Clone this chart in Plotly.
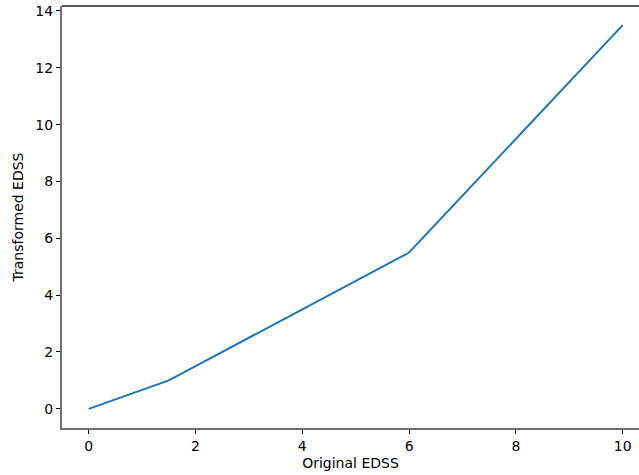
import plotly.graph_objects as go

original_edss = [0, 1.5, 6, 10]
transformed_edss = [0, 1, 5.5, 13.5]
x_ticks = [0, 2, 4, 6, 8, 10]
y_ticks = [0, 2, 4, 6, 8, 10, 12, 14]

fig = go.Figure()
fig.add_trace(go.Scatter(x=original_edss, y=transformed_edss, mode="lines",
                         line=dict(color="#1f77b4", width=2)))

font = dict(family="DejaVu Sans", size=14, color="black")
fig.update_layout(
    width=639, height=475,
    margin=dict(l=62, r=0, t=6, b=47),
    paper_bgcolor="white", plot_bgcolor="white",
    showlegend=False,
    font=font,
    xaxis=dict(range=[-0.5, 10.305], tickvals=x_ticks, ticktext=[str(v) for v in x_ticks],
               showgrid=False, zeroline=False, showline=True, linecolor="#707070", linewidth=2,
               ticks="outside", ticklen=4, tickwidth=1, tickcolor="black",
               title=dict(text="Original EDSS", font=font, standoff=5)),
    yaxis=dict(range=[-0.675, 14.175], tickvals=y_ticks, ticktext=[str(v) for v in y_ticks],
               showgrid=False, zeroline=False, showline=True, linecolor="#707070", linewidth=2,
               ticks="outside", ticklen=4, tickwidth=1, tickcolor="black",
               title=dict(text="Transformed EDSS", font=font, standoff=8)),
    shapes=[dict(type="line", xref="paper", yref="paper", x0=0, x1=1, y0=1, y1=1,
                 line=dict(color="#222222", width=1.5))],
)
fig.write_html("out.html", config={"displayModeBar": False},
               post_script="document.body.style.margin='0';document.body.style.overflow='hidden';")
